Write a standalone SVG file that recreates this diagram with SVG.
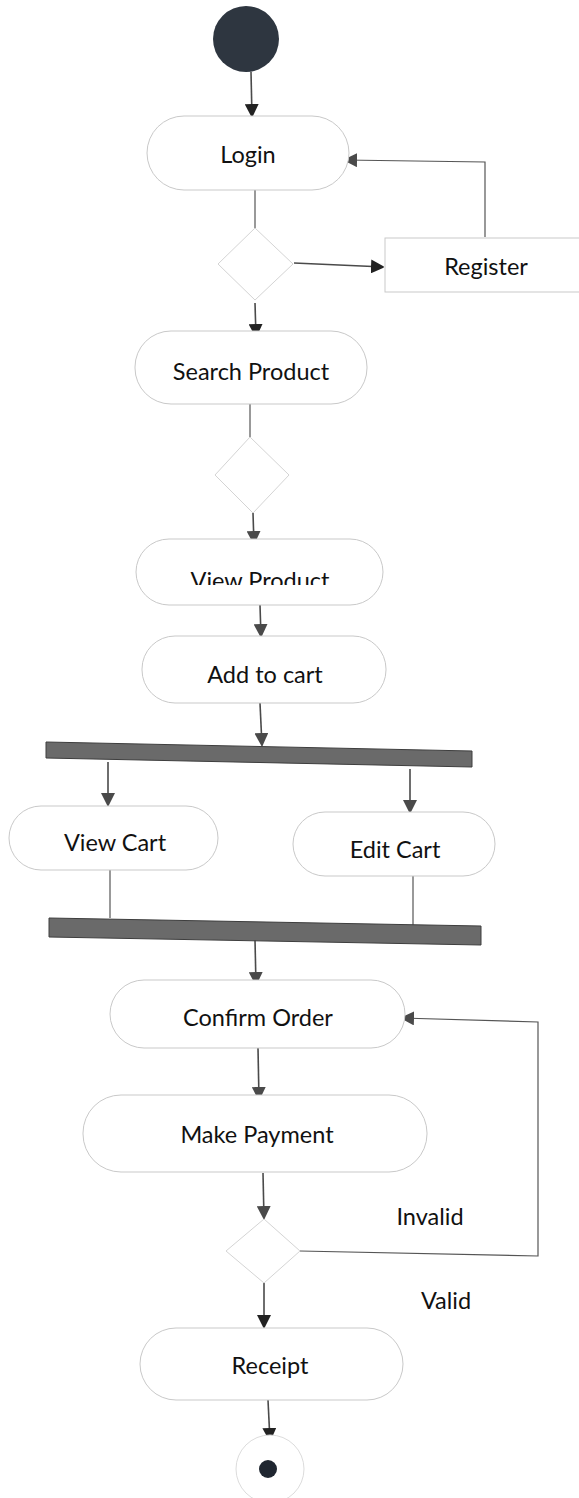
<svg xmlns="http://www.w3.org/2000/svg" width="579" height="1498" viewBox="0 0 579 1498">
  <style>
    .act { fill: #ffffff; stroke: #c9c9c9; stroke-width: 1; }
    .dec { fill: #ffffff; stroke: #d4d4d4; stroke-width: 1; }
    .lbl { font-family: Lato, "Open Sans", sans-serif; font-size: 23.5px; fill: #111111; text-anchor: middle; }
    .edge { fill: none; stroke: #4a4a4a; stroke-width: 1.6; }
    .thin { fill: none; stroke: #555555; stroke-width: 1.2; }
    .bar { fill: #6a6a6a; stroke: #3e3e3e; stroke-width: 1; }
  </style>
  <defs>
    <marker id="arrow" viewBox="0 0 12 14" refX="13" refY="7" markerWidth="12" markerHeight="14" markerUnits="userSpaceOnUse" orient="auto">
      <path d="M0,0 L14,7 L0,14 Z" fill="#4a4a4a"/>
    </marker>
    <marker id="arrowDark" viewBox="0 0 12 14" refX="13" refY="7" markerWidth="12" markerHeight="14" markerUnits="userSpaceOnUse" orient="auto">
      <path d="M0,0 L14,7 L0,14 Z" fill="#222222"/>
    </marker>
    <clipPath id="clipView">
      <rect x="130" y="538" width="260" height="47"/>
    </clipPath>
  </defs>

  <rect width="579" height="1498" fill="#ffffff"/>

  <!-- connectors -->
  <g id="connectors">
    <line class="edge" x1="251" y1="72" x2="252" y2="117" stroke="#222" marker-end="url(#arrowDark)"/>
    <polyline class="thin" points="255,190 255,228"/>
    <line class="edge" x1="294" y1="263" x2="384" y2="267" stroke="#222" marker-end="url(#arrowDark)"/>
    <polyline class="thin" points="485,237 485,162 344,160" marker-end="url(#arrow)"/>
    <line class="edge" x1="255" y1="303" x2="256" y2="337" stroke="#222" marker-end="url(#arrowDark)"/>
    <polyline class="thin" points="250,404 250,437"/>
    <line class="edge" x1="253" y1="513" x2="254" y2="544" marker-end="url(#arrow)"/>
    <line class="edge" x1="260" y1="605" x2="261" y2="637" marker-end="url(#arrow)"/>
    <line class="edge" x1="260" y1="703" x2="262" y2="746" marker-end="url(#arrow)"/>
    <line class="edge" x1="108" y1="762" x2="108" y2="806" marker-end="url(#arrow)"/>
    <line class="edge" x1="410" y1="769" x2="410" y2="813" marker-end="url(#arrow)"/>
    <polyline class="thin" points="110,870 110,918"/>
    <polyline class="thin" points="413,876 413,926"/>
    <line class="edge" x1="255" y1="940" x2="256" y2="985" marker-end="url(#arrow)"/>
    <line class="edge" x1="258" y1="1048" x2="259" y2="1100" marker-end="url(#arrow)"/>
    <line class="edge" x1="263" y1="1173" x2="264" y2="1219" marker-end="url(#arrow)"/>
    <polyline class="thin" points="300,1251 538,1256 538,1022 401,1018" marker-end="url(#arrow)"/>
    <line class="edge" x1="264" y1="1283" x2="264" y2="1328" stroke="#222" marker-end="url(#arrowDark)"/>
    <line class="edge" x1="268" y1="1400" x2="270" y2="1441" stroke="#222" marker-end="url(#arrowDark)"/>
  </g>

  <!-- initial node -->
  <g id="start">
    <circle cx="246" cy="39" r="33" fill="#2e3640"/>
  </g>

  <g id="login">
    <rect class="act" x="147" y="116" width="202" height="74" rx="37"/>
    <text class="lbl" x="248" y="163">Login</text>
  </g>

  <g id="decision-login">
    <polygon class="dec" points="255,228 293,264 255,300 218,264"/>
  </g>

  <g id="register">
    <rect class="act" x="385" y="238" width="210" height="54"/>
    <text class="lbl" x="486" y="275">Register</text>
  </g>

  <g id="search-product">
    <rect class="act" x="135" y="331" width="232" height="73" rx="36"/>
    <text class="lbl" x="251" y="380">Search Product</text>
  </g>

  <g id="decision-search">
    <polygon class="dec" points="250,437 289,475 253,513 215,475"/>
  </g>

  <g id="view-product">
    <rect class="act" x="136" y="539" width="247" height="66" rx="33"/>
    <text class="lbl" x="260" y="589" clip-path="url(#clipView)">View Product</text>
  </g>

  <g id="add-to-cart">
    <rect class="act" x="142" y="636" width="244" height="67" rx="33"/>
    <text class="lbl" x="265" y="683">Add to cart</text>
  </g>

  <g id="fork">
    <polygon class="bar" points="46,742 472,751 472,767 46,758"/>
  </g>

  <g id="view-cart">
    <rect class="act" x="9" y="806" width="209" height="64" rx="32"/>
    <text class="lbl" x="115" y="851">View Cart</text>
  </g>

  <g id="edit-cart">
    <rect class="act" x="293" y="812" width="202" height="64" rx="32"/>
    <text class="lbl" x="395" y="858">Edit Cart</text>
  </g>

  <g id="join">
    <polygon class="bar" points="49,918 481,926 481,945 49,937"/>
  </g>

  <g id="confirm-order">
    <rect class="act" x="110" y="980" width="295" height="68" rx="34"/>
    <text class="lbl" x="258" y="1026">Confirm Order</text>
  </g>

  <g id="make-payment">
    <rect class="act" x="83" y="1095" width="344" height="77" rx="38"/>
    <text class="lbl" x="257" y="1143">Make Payment</text>
  </g>

  <g id="decision-payment">
    <polygon class="dec" points="264,1219 300,1251 264,1283 226,1251"/>
  </g>

  <g id="guard-labels">
    <text class="lbl" x="430" y="1225">Invalid</text>
    <text class="lbl" x="446" y="1309">Valid</text>
  </g>

  <g id="receipt">
    <rect class="act" x="140" y="1328" width="263" height="72" rx="36"/>
    <text class="lbl" x="270" y="1374">Receipt</text>
  </g>

  <g id="end">
    <circle cx="270" cy="1469" r="34" fill="#ffffff" stroke="#dcdcdc" stroke-width="1"/>
    <circle cx="268" cy="1469" r="9" fill="#1f2630"/>
  </g>
</svg>
